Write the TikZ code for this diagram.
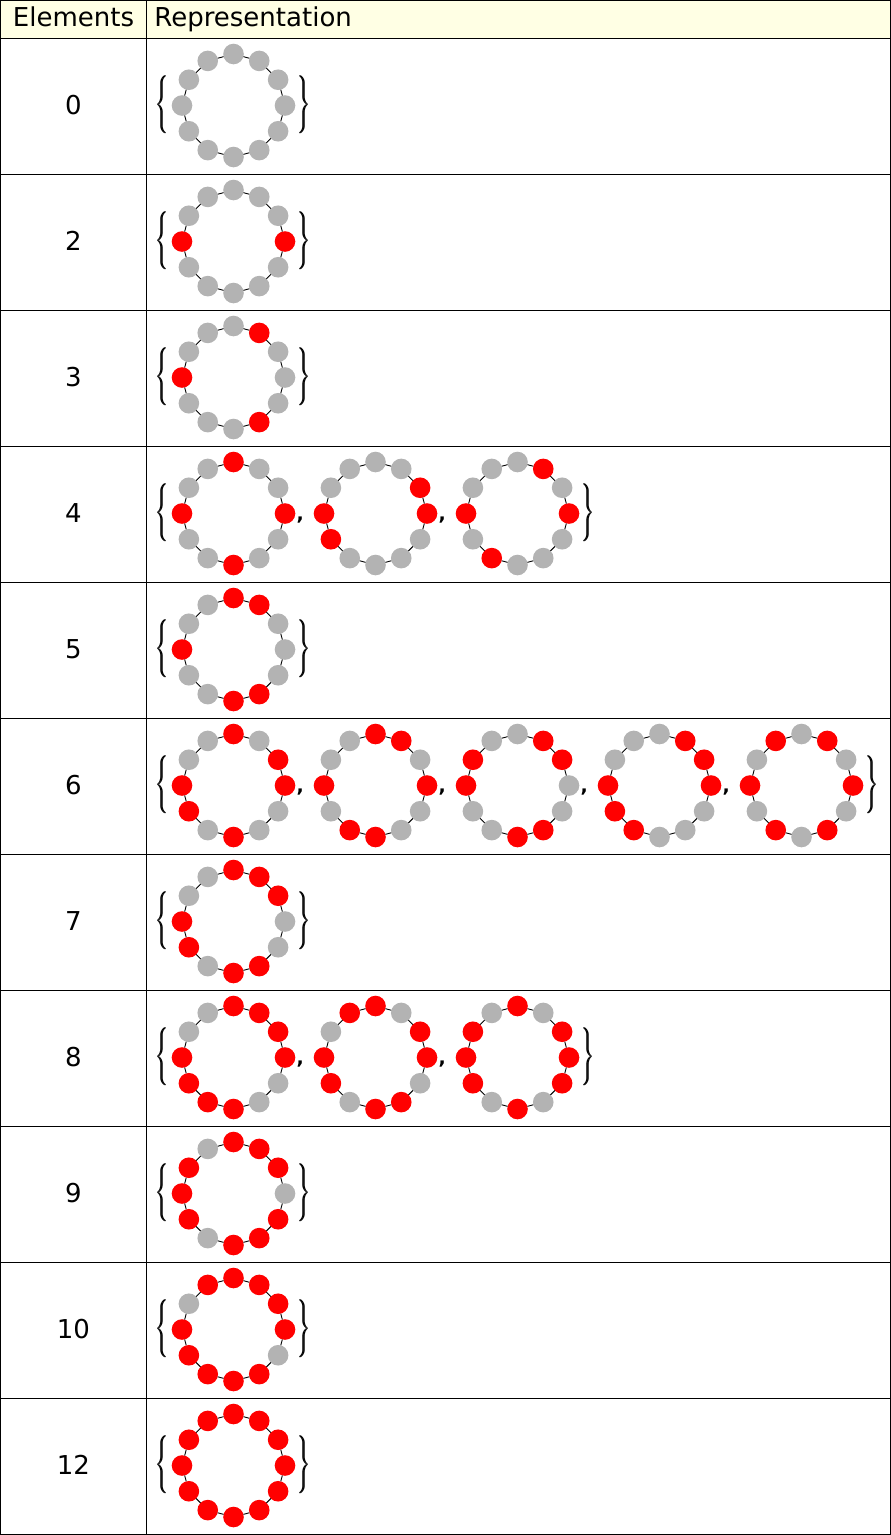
\documentclass[tikz,border=0pt]{standalone}
\usepackage{fontspec}
\setmainfont{DejaVu Sans}
\usepackage{graphicx}
\definecolor{hdr}{RGB}{255,255,228}
\definecolor{dred}{RGB}{255,0,0}
\definecolor{dgray}{RGB}{179,179,179}
\tikzset{
  dot/.style={circle,inner sep=0pt,outer sep=0pt,minimum size=20.6pt,draw=none},
  dotr/.style={dot,fill=dred},
  dotg/.style={dot,fill=dgray},
  link/.style={draw=black,line width=0.9pt},
  grid/.style={draw=black,line width=1.3pt},
  lbl/.style={font=\fontsize{26}{30}\selectfont,inner sep=0pt,anchor=base},
  brace/.style={inner sep=0pt,anchor=center},
  sep/.style={font=\fontsize{19}{22}\selectfont\bfseries,inner sep=0pt,anchor=base},
}
\newcommand\ringdraw[4]{%
  \foreach \c [count=\i from 0] in {#4} {
    \node[dot\c] (#1-\i) at ({#2+51.5*cos(30*\i-90)},{#3+51.5*sin(30*\i-90)}) {};
  }
  \foreach \i in {0,...,11} {
    \pgfmathtruncatemacro\j{mod(\i+1,12)}
    \draw[link] (#1-\i) -- (#1-\j);
  }
}
\newcommand\thickbr[1]{\rlap{\resizebox*{12pt}{58pt}{$\Bigg#1$}}\kern0.9pt\resizebox*{12pt}{58pt}{$\Bigg#1$}}
\newcommand\openbr[2]{\node[brace] (#1) at (162.4,#2-0.5) {\thickbr\{};}
\newcommand\closebr[3]{\node[brace] (#1) at (#2+70.5,#3-0.5) {\thickbr\}};}
\newcommand\commaat[3]{\node[sep] (#1) at (#2+66.7,#3+6.5) {,};}
\newcommand\rowlbl[3]{\node[lbl] (#1) at (73.5,#2+8.5) {#3};}
\begin{document}
\begin{tikzpicture}[x=1pt,y=-1pt]
\useasboundingbox (0,0) rectangle (891,1535);
\fill[hdr] (0,0) rectangle (891,38.3);
% grid
\draw[grid] (0.65,0.65) rectangle (890.35,1534.35);
\foreach \k in {0,...,10} {
  \draw[grid] (0,{38.3+136*\k}) -- (891,{38.3+136*\k});
}
\draw[grid] (146.7,0) -- (146.7,1535);
% header
\node[lbl] (hElements) at (73.5,26) {Elements};
\node[lbl,anchor=base west] (hRep) at (154.2,26) {Representation};
% row 0
\rowlbl{l0}{105.5}{0}
\openbr{ob0}{105.5}
\ringdraw{a0}{233.5}{105.5}{g,g,g,g,g,g,g,g,g,g,g,g}
\closebr{cb0}{233.5}{105.5}
% row 2
\rowlbl{l2}{241.5}{2}
\openbr{ob2}{241.5}
\ringdraw{a2}{233.5}{241.5}{g,g,g,r,g,g,g,g,g,r,g,g}
\closebr{cb2}{233.5}{241.5}
% row 3
\rowlbl{l3}{377.5}{3}
\openbr{ob3}{377.5}
\ringdraw{a3}{233.5}{377.5}{g,r,g,g,g,r,g,g,g,r,g,g}
\closebr{cb3}{233.5}{377.5}
% row 4
\rowlbl{l4}{513.5}{4}
\openbr{ob4}{513.5}
\ringdraw{a4}{233.5}{513.5}{r,g,g,r,g,g,r,g,g,r,g,g}
\commaat{c4a}{233.5}{513.5}
\ringdraw{b4}{375.5}{513.5}{g,g,r,r,g,g,g,g,r,r,g,g}
\commaat{c4b}{375.5}{513.5}
\ringdraw{d4}{517.5}{513.5}{g,r,g,r,g,g,g,r,g,r,g,g}
\closebr{cb4}{517.5}{513.5}
% row 5
\rowlbl{l5}{649.5}{5}
\openbr{ob5}{649.5}
\ringdraw{a5}{233.5}{649.5}{r,r,g,g,g,r,r,g,g,r,g,g}
\closebr{cb5}{233.5}{649.5}
% row 6
\rowlbl{l6}{785.5}{6}
\openbr{ob6}{785.5}
\ringdraw{a6}{233.5}{785.5}{r,g,r,r,g,g,r,g,r,r,g,g}
\commaat{c6a}{233.5}{785.5}
\ringdraw{b6}{375.5}{785.5}{r,r,g,r,g,g,r,r,g,r,g,g}
\commaat{c6b}{375.5}{785.5}
\ringdraw{d6}{517.5}{785.5}{g,r,r,g,g,r,r,g,g,r,r,g}
\commaat{c6c}{517.5}{785.5}
\ringdraw{e6}{659.5}{785.5}{g,r,r,r,g,g,g,r,r,r,g,g}
\commaat{c6d}{659.5}{785.5}
\ringdraw{f6}{801.5}{785.5}{g,r,g,r,g,r,g,r,g,r,g,r}
\closebr{cb6}{801.5}{785.5}
% row 7
\rowlbl{l7}{921.5}{7}
\openbr{ob7}{921.5}
\ringdraw{a7}{233.5}{921.5}{r,r,r,g,g,r,r,g,r,r,g,g}
\closebr{cb7}{233.5}{921.5}
% row 8
\rowlbl{l8}{1057.5}{8}
\openbr{ob8}{1057.5}
\ringdraw{a8}{233.5}{1057.5}{r,r,r,r,g,g,r,r,r,r,g,g}
\commaat{c8a}{233.5}{1057.5}
\ringdraw{b8}{375.5}{1057.5}{r,g,r,r,g,r,r,g,r,r,g,r}
\commaat{c8b}{375.5}{1057.5}
\ringdraw{d8}{517.5}{1057.5}{r,g,r,r,r,g,r,g,r,r,r,g}
\closebr{cb8}{517.5}{1057.5}
% row 9
\rowlbl{l9}{1193.5}{9}
\openbr{ob9}{1193.5}
\ringdraw{a9}{233.5}{1193.5}{r,r,r,g,r,r,r,g,r,r,r,g}
\closebr{cb9}{233.5}{1193.5}
% row 10
\rowlbl{l10}{1329.5}{10}
\openbr{ob10}{1329.5}
\ringdraw{a10}{233.5}{1329.5}{r,r,r,r,g,r,r,r,r,r,g,r}
\closebr{cb10}{233.5}{1329.5}
% row 12
\rowlbl{l12}{1465.5}{12}
\openbr{ob12}{1465.5}
\ringdraw{a12}{233.5}{1465.5}{r,r,r,r,r,r,r,r,r,r,r,r}
\closebr{cb12}{233.5}{1465.5}
\end{tikzpicture}
\end{document}
